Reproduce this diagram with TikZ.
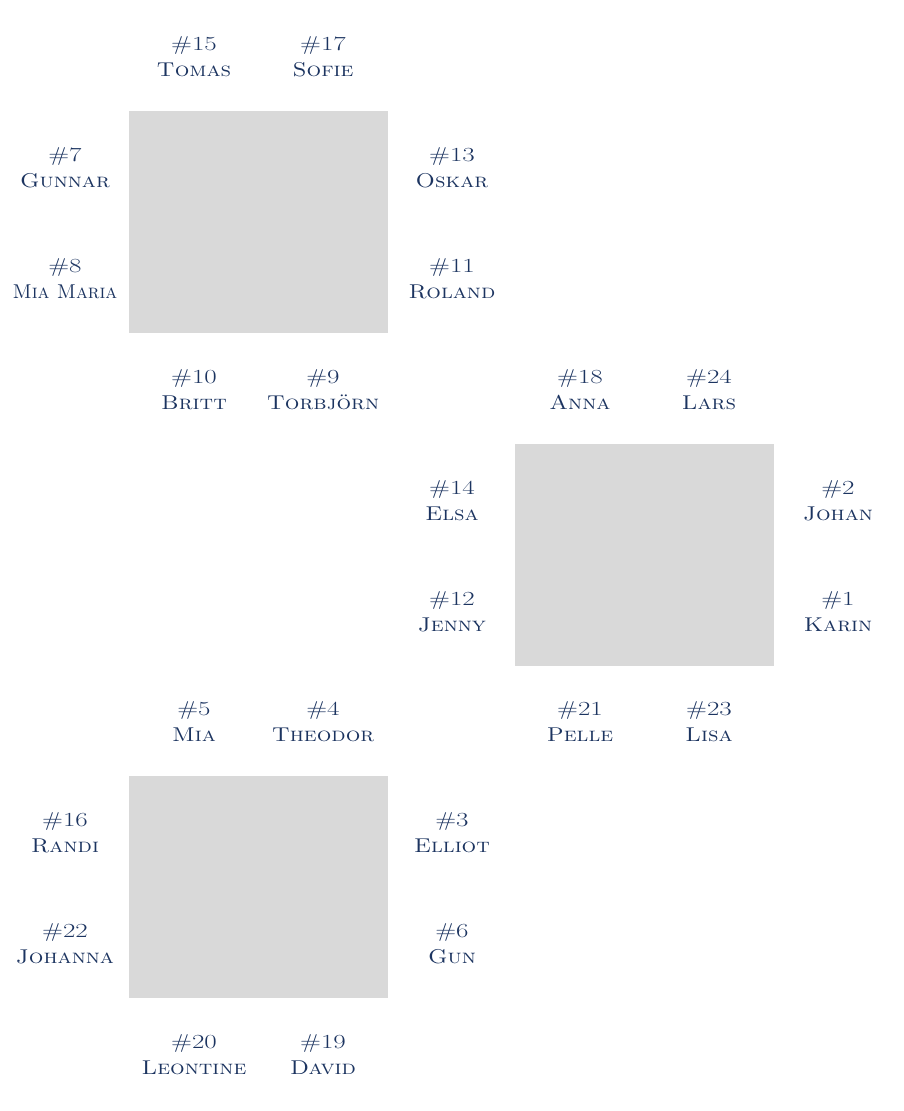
\documentclass[tikz,border=0pt]{standalone}
\definecolor{txt}{RGB}{28,52,96}
\definecolor{boxg}{RGB}{217,217,217}
\newcommand{\guest}[3][1.15]{\scalebox{1.35}[1]{\#{}#2}\\\scalebox{#1}[1]{\textsc{#3}}}
\tikzset{
  lbl/.style={align=center,text=txt,font=\fontsize{20}{26}\selectfont,inner sep=0pt},
  tablebox/.style={fill=boxg,draw=none,anchor=north west,minimum width=259pt,minimum height=222pt,inner sep=0pt}
}
\begin{document}
\begin{tikzpicture}[x=1pt,y=-1pt]
\useasboundingbox (0,0) rectangle (904,1111);
% tables
\node[tablebox] (t1) at (129,111) {};
\node[tablebox] (t2) at (515,444) {};
\node[tablebox] (t3) at (129,776) {};
% table 1
\node[lbl] (g15) at (194,57) {\guest{15}{Tomas}};
\node[lbl] (g17) at (323,57) {\guest{17}{Sofie}};
\node[lbl] (g7) at (65,168) {\guest{7}{Gunnar}};
\node[lbl] (g8) at (65,279) {\guest[0.97]{8}{Mia Maria}};
\node[lbl] (g13) at (452,168) {\guest{13}{Oskar}};
\node[lbl] (g11) at (452,279) {\guest{11}{Roland}};
\node[lbl] (g10) at (194,390) {\guest{10}{Britt}};
\node[lbl] (g9) at (323,390) {\guest{9}{Torbjörn}};
% table 2
\node[lbl] (g18) at (580,390) {\guest{18}{Anna}};
\node[lbl] (g24) at (709,390) {\guest{24}{Lars}};
\node[lbl] (g14) at (452,501) {\guest{14}{Elsa}};
\node[lbl] (g12) at (452,612) {\guest{12}{Jenny}};
\node[lbl] (g2) at (838,501) {\guest{2}{Johan}};
\node[lbl] (g1) at (838,612) {\guest{1}{Karin}};
\node[lbl] (g21) at (580,722) {\guest{21}{Pelle}};
\node[lbl] (g23) at (709,722) {\guest{23}{Lisa}};
% table 3
\node[lbl] (g5) at (194,722) {\guest{5}{Mia}};
\node[lbl] (g4) at (323,722) {\guest{4}{Theodor}};
\node[lbl] (g16) at (65,833) {\guest{16}{Randi}};
\node[lbl] (g22) at (65,944) {\guest{22}{Johanna}};
\node[lbl] (g3) at (452,833) {\guest{3}{Elliot}};
\node[lbl] (g6) at (452,944) {\guest{6}{Gun}};
\node[lbl] (g20) at (194,1055) {\guest{20}{Leontine}};
\node[lbl] (g19) at (323,1055) {\guest{19}{David}};
\end{tikzpicture}
\end{document}
